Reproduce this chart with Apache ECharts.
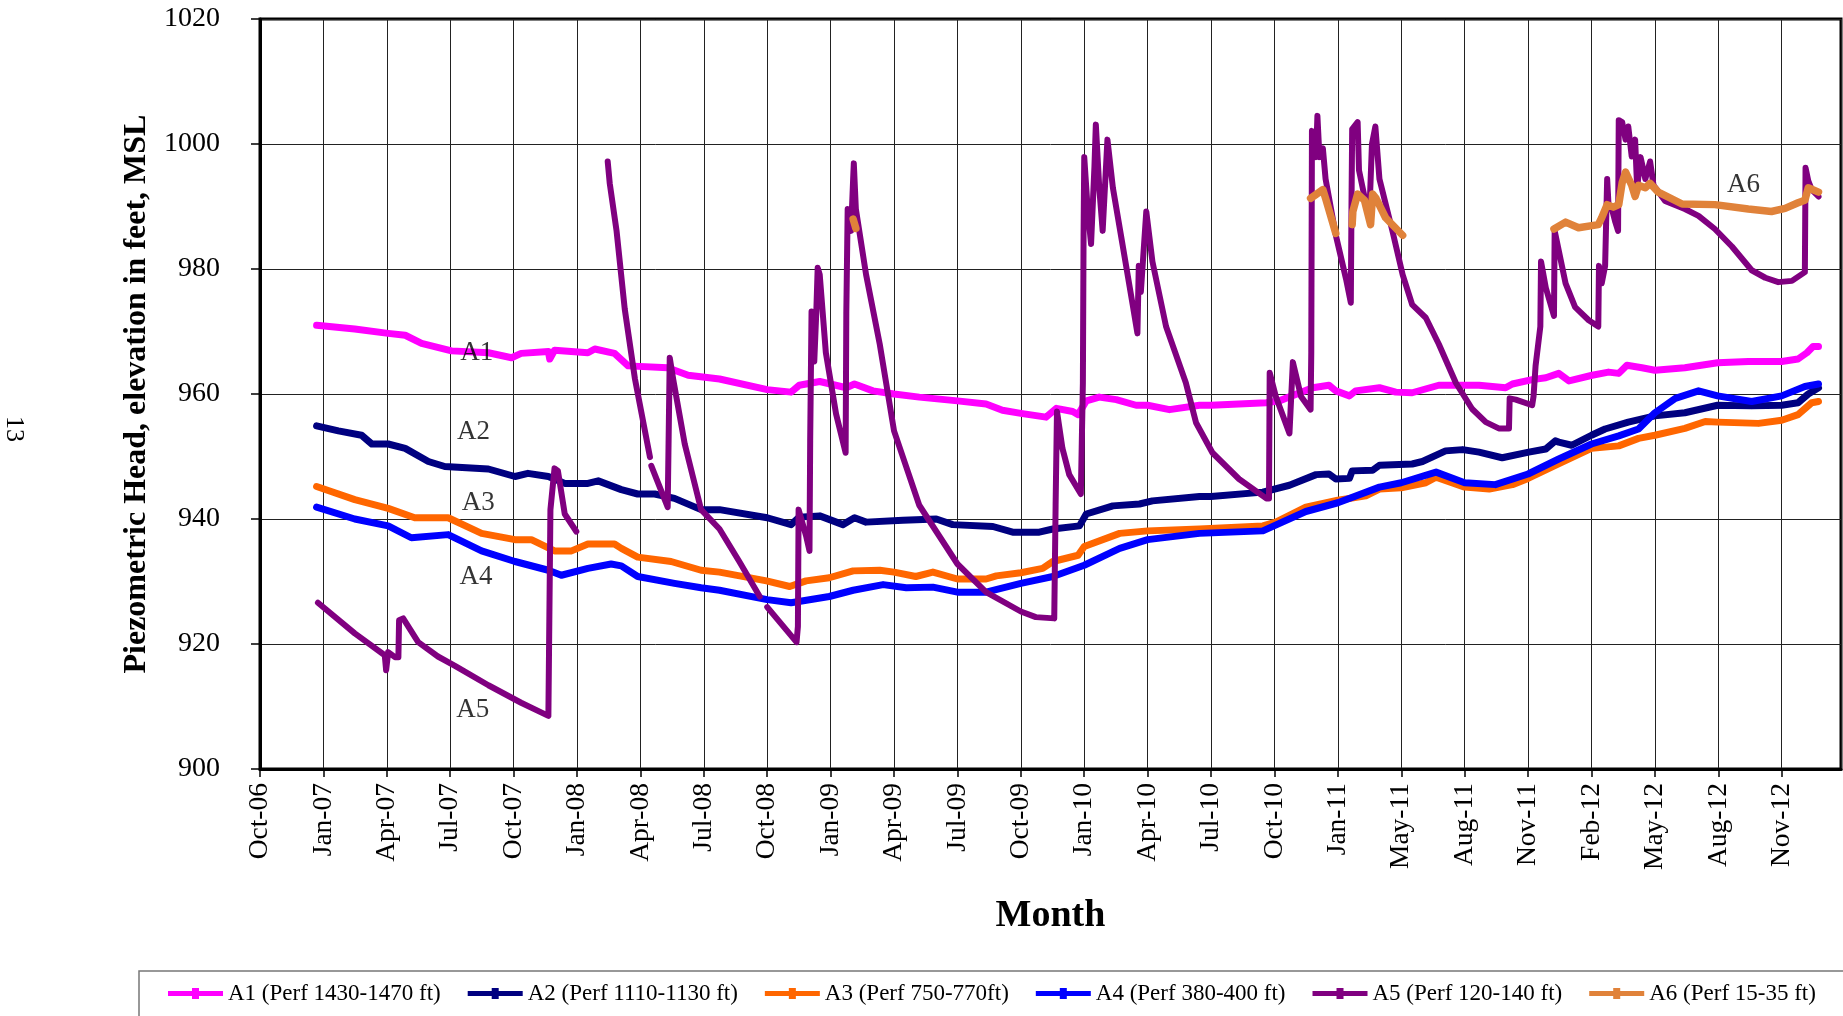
<!DOCTYPE html>
<html>
<head>
<meta charset="utf-8">
<script src="https://cdn.jsdelivr.net/npm/echarts@6/dist/echarts.min.js"></script>
<style>
html,body{margin:0;padding:0;background:#fff;}
#chart{width:1843px;height:1016px;}
</style>
</head>
<body>
<div id="chart"></div>
<script>
// x values are days counted from the axis start (1 Oct 2006); ticks every 93 days
const AXIS_START = Date.UTC(2006, 9, 1);
const TICK_DAYS = 93;
const AXIS_END_DAY = 2319;
const MONTHS = ['Jan','Feb','Mar','Apr','May','Jun','Jul','Aug','Sep','Oct','Nov','Dec'];

const seriesNames = ['A1 (Perf 1430-1470 ft)','A2 (Perf 1110-1130 ft)','A3 (Perf 750-770ft)','A4 (Perf 380-400 ft)','A5 (Perf 120-140 ft)','A6 (Perf 15-35 ft)'];
const seriesColors = ['#FF00FF','#000080','#FF6600','#0000FF','#800080','#E0823A'];

const a1 = [[83,971.0],[139,970.4],[188,969.7],[213,969.4],[237,968.1],[281,966.9],[335,966.6],[369,965.8],[383,966.5],[423,966.8],[425,965.6],[432,967.0],[481,966.6],[491,967.2],[520,966.5],[540,964.5],[598,964.2],[628,963.0],[674,962.4],[744,960.7],[779,960.3],[791,961.4],[821,962.0],[860,961.0],[872,961.6],[899,960.5],[930,960.0],[967,959.5],[1023,958.9],[1065,958.4],[1089,957.4],[1116,956.9],[1153,956.3],[1168,957.7],[1192,957.2],[1200,956.7],[1212,958.9],[1231,959.5],[1256,959.1],[1285,958.2],[1302,958.2],[1334,957.5],[1378,958.2],[1395,958.2],[1476,958.6],[1495,958.9],[1544,961.0],[1568,961.4],[1578,960.5],[1598,959.7],[1607,960.5],[1642,961.0],[1666,960.3],[1690,960.2],[1729,961.4],[1788,961.4],[1827,961.0],[1837,961.6],[1866,962.3],[1886,962.6],[1905,963.3],[1920,962.1],[1954,963.0],[1978,963.5],[1993,963.3],[2005,964.6],[2027,964.2],[2046,963.8],[2090,964.2],[2138,965.0],[2183,965.2],[2232,965.2],[2256,965.6],[2269,966.6],[2278,967.6],[2286,967.6]];

const a2 = [[83,954.9],[115,954.1],[149,953.4],[164,952.0],[188,952.0],[213,951.3],[247,949.2],[271,948.4],[335,948.0],[374,946.8],[393,947.3],[423,946.8],[447,945.7],[481,945.7],[496,946.1],[530,944.7],[554,944.0],[579,944.0],[608,943.3],[647,941.5],[674,941.5],[744,940.2],[779,939.1],[791,940.3],[821,940.5],[855,939.1],[872,940.2],[889,939.5],[943,939.8],[992,940.0],[1016,939.1],[1075,938.8],[1104,937.9],[1143,937.9],[1163,938.4],[1202,938.9],[1212,940.8],[1251,942.1],[1290,942.4],[1309,942.9],[1378,943.6],[1395,943.6],[1471,944.3],[1510,945.4],[1549,947.1],[1568,947.2],[1578,946.4],[1598,946.5],[1602,947.7],[1632,947.8],[1642,948.6],[1690,948.8],[1705,949.2],[1739,950.9],[1764,951.1],[1788,950.7],[1822,949.8],[1861,950.7],[1886,951.2],[1900,952.5],[1905,952.3],[1924,951.8],[1953,953.4],[1973,954.4],[2007,955.5],[2046,956.5],[2090,957.0],[2138,958.2],[2188,958.1],[2232,958.2],[2256,958.6],[2271,960.0],[2286,961.0]];

const a3 = [[83,945.2],[139,943.1],[188,941.7],[227,940.2],[276,940.2],[325,937.7],[374,936.7],[398,936.7],[432,934.9],[457,934.9],[481,936.0],[520,936.0],[530,935.3],[554,933.9],[603,933.2],[647,931.8],[674,931.5],[743,930.1],[777,929.2],[801,930.1],[835,930.6],[870,931.7],[909,931.8],[930,931.5],[962,930.8],[987,931.5],[1023,930.4],[1065,930.4],[1080,930.9],[1116,931.4],[1148,932.1],[1163,933.2],[1200,934.2],[1209,935.6],[1261,937.7],[1302,938.1],[1378,938.4],[1471,938.9],[1490,939.5],[1534,941.9],[1581,943.0],[1622,943.7],[1642,944.8],[1674,945.0],[1710,945.8],[1725,946.7],[1767,945.1],[1803,944.8],[1837,945.5],[1860,946.5],[1900,948.6],[1953,951.3],[1993,951.7],[2022,952.9],[2046,953.4],[2090,954.5],[2120,955.6],[2138,955.5],[2198,955.3],[2232,955.8],[2256,956.7],[2276,958.6],[2286,958.8]];

const a4 = [[83,941.9],[139,940.0],[188,938.9],[222,937.0],[276,937.5],[325,934.9],[374,933.2],[423,931.8],[442,931.0],[481,932.1],[515,932.8],[530,932.5],[554,930.8],[608,929.7],[647,929.0],[674,928.6],[744,927.1],[779,926.6],[835,927.6],[870,928.6],[914,929.5],[948,929.0],[987,929.1],[1023,928.3],[1065,928.3],[1116,929.7],[1163,930.8],[1209,932.6],[1261,935.3],[1302,936.7],[1378,937.7],[1471,938.1],[1534,941.2],[1581,942.6],[1642,945.1],[1674,945.8],[1725,947.5],[1767,945.8],[1812,945.5],[1860,947.2],[1905,949.6],[1953,952.0],[1993,953.3],[2022,954.4],[2046,957.0],[2076,959.3],[2110,960.5],[2138,959.7],[2188,958.8],[2232,959.7],[2266,961.2],[2286,961.6]];

const a5 = [[85,926.6],[139,921.7],[183,918.2],[185,915.8],[188,918.7],[198,917.9],[203,917.9],[204,923.8],[210,924.1],[232,920.3],[261,918.0],[286,916.5],[335,913.4],[383,910.6],[423,908.5],[425,908.2],[426,941.5],[432,948.1],[437,947.7],[447,940.8],[464,938.0],[480,null],
[510,997.2],[513,993.7],[523,986.1],[535,973.6],[550,962.4],[572,949.9],[573,null],[574,948.5],[598,941.9],[601,965.8],[606,962.4],[623,952.0],[647,941.5],[674,938.4],[703,933.2],[733,927.6],[738,null],
[744,925.9],[787,920.3],[789,922.8],[790,941.5],[801,937.3],[806,934.9],[807,952.5],[809,973.2],[813,965.2],[816,973.2],[818,980.2],[821,979.1],[830,966.6],[845,956.8],[859,950.6],[860,972.9],[862,989.6],[867,986.1],[870,994.4],[871,996.9],[874,989.6],[889,979.1],[909,968.0],[930,954.1],[967,942.2],[1023,932.8],[1065,928.3],[1116,925.2],[1138,924.3],[1165,924.1],[1167,942.2],[1169,957.2],[1177,951.3],[1187,947.1],[1204,944.0],[1207,961.8],[1208,985.4],[1209,997.9],[1214,989.6],[1219,984.0],[1224,996.5],[1226,1003.1],[1231,993.0],[1236,986.1],[1243,1000.7],[1251,993.0],[1265,984.0],[1280,974.3],[1287,969.7],[1289,980.5],[1292,976.3],[1300,989.2],[1309,981.2],[1329,970.8],[1358,961.8],[1373,955.4],[1397,950.6],[1436,946.4],[1476,943.3],[1480,943.3],[1481,963.4],[1490,959.6],[1510,953.7],[1515,965.1],[1517,964.8],[1527,959.6],[1541,957.5],[1542,966.6],[1543,1002.1],[1549,997.9],[1551,1004.5],[1554,997.9],[1559,999.3],[1563,994.4],[1578,985.4],[1593,978.4],[1600,974.6],[1601,990.3],[1602,1002.4],[1610,1003.5],[1612,995.8],[1620,991.6],[1627,988.2],[1631,1000.0],[1636,1002.8],[1642,994.4],[1661,986.1],[1676,979.1],[1690,974.3],[1710,972.2],[1729,968.0],[1754,961.8],[1778,957.6],[1798,955.5],[1817,954.5],[1832,954.5],[1833,959.3],[1842,959.1],[1866,958.2],[1868,959.6],[1871,964.5],[1878,970.8],[1879,981.2],[1886,977.0],[1898,972.5],[1899,986.1],[1907,981.9],[1915,977.7],[1929,973.9],[1949,971.8],[1963,970.8],[1964,980.5],[1968,977.7],[1973,980.5],[1976,994.4],[1978,990.3],[1983,989.6],[1988,987.5],[1992,986.1],[1993,1003.8],[1998,1003.5],[2003,1000.7],[2007,1002.8],[2012,998.0],[2017,1000.7],[2020,993.0],[2025,997.9],[2032,994.4],[2039,997.2],[2044,993.4],[2061,990.9],[2090,989.6],[2110,988.5],[2134,986.4],[2159,983.6],[2188,979.8],[2208,978.6],[2227,977.9],[2247,978.1],[2266,979.5],[2267,996.2],[2271,994.1],[2276,992.7],[2286,991.6]];

const a6 = [[870,988.0],[874,986.5],[875,null],
[1541,991.3],[1559,992.7],[1563,991.3],[1578,985.7],[1590,null],
[1602,987.1],[1603,989.2],[1610,992.0],[1620,991.0],[1629,987.1],[1632,992.0],[1637,991.3],[1651,988.2],[1676,985.4],[1680,null],
[1898,986.4],[1915,987.5],[1934,986.6],[1963,987.1],[1968,988.2],[1976,990.3],[1985,989.9],[1993,990.3],[1998,993.8],[2003,995.5],[2012,993.4],[2017,991.6],[2022,993.4],[2032,993.0],[2039,993.7],[2051,992.3],[2086,990.4],[2134,990.3],[2183,989.6],[2217,989.2],[2237,989.7],[2256,990.6],[2266,991.0],[2271,993.0],[2286,992.3]];

const seriesData = [a1, a2, a3, a4, a5, a6];
const seriesWidths = [7, 7, 7, 7, 6, 7.5];

// in-plot well labels (day, head)
const annotationText = ['A1','A2','A3','A4','A5','A6'];
const annotationPos = [[318,966.6],[313,954.0],[320,942.5],[317,930.7],[312,909.4],[2176,993.5]];

const FONT = "'Liberation Serif','Times New Roman',serif";

function dayLabel(v) {
  const k = v / TICK_DAYS;
  if (Math.abs(k - Math.round(k)) > 1e-6) return '';
  const d = new Date(AXIS_START + Math.round(v) * 86400000);
  return MONTHS[d.getUTCMonth()] + '-' + String(d.getUTCFullYear() % 100).padStart(2, '0');
}

const toData = arr => arr.map(p => [p[0], p[1] === null ? '-' : p[1]]);

const legendIcon = 'path://M0,3L24,3L24,0L31,0L31,3L55,3L55,8L31,8L31,11L24,11L24,8L0,8Z';

const series = seriesNames.map((name, i) => ({
  name: name,
  type: 'line',
  data: toData(seriesData[i]),
  showSymbol: false,
  symbol: 'rect',
  connectNulls: false,
  lineStyle: { color: seriesColors[i], width: seriesWidths[i], join: 'round', cap: 'round' },
  itemStyle: { color: seriesColors[i] },
  emphasis: { disabled: true },
  z: 2 + i
}));

series.push({
  name: 'labels',
  type: 'scatter',
  data: annotationPos.map((p, i) => [p[0], p[1], annotationText[i]]),
  symbolSize: 1,
  itemStyle: { color: 'rgba(0,0,0,0)' },
  label: {
    show: true, position: 'inside', formatter: p => p.data[2],
    fontFamily: FONT, fontSize: 27, color: '#000'
  },
  silent: true,
  z: 20
});

const chart = echarts.init(document.getElementById('chart'), null, { renderer: 'canvas' });
chart.setOption({
  animation: false,
  backgroundColor: '#ffffff',
  grid: { left: 260, right: 2, top: 19, bottom: 247, show: true, borderColor: '#000', borderWidth: 3, backgroundColor: 'transparent' },
  xAxis: {
    type: 'value', min: 0, max: AXIS_END_DAY, interval: TICK_DAYS,
    name: 'Month', nameLocation: 'middle', nameGap: 128,
    nameTextStyle: { fontFamily: FONT, fontSize: 38, fontWeight: 'bold', color: '#000' },
    axisLine: { show: true, onZero: false, lineStyle: { color: '#000', width: 3 } },
    axisTick: { show: true, inside: false, length: 8, lineStyle: { color: '#000', width: 1.5 } },
    axisLabel: { rotate: 90, margin: 14, fontFamily: FONT, fontSize: 27.5, color: '#000', formatter: dayLabel, showMaxLabel: false, showMinLabel: true },
    splitLine: { show: true, lineStyle: { color: '#222', width: 1 } }
  },
  yAxis: {
    type: 'value', min: 900, max: 1020, interval: 20,
    name: 'Piezometric Head, elevation in feet, MSL', nameLocation: 'middle', nameGap: 106, nameRotate: 90,
    nameTextStyle: { fontFamily: FONT, fontSize: 32, fontWeight: 'bold', color: '#000' },
    axisLine: { show: true, lineStyle: { color: '#000', width: 3 } },
    axisTick: { show: true, inside: false, length: 9, lineStyle: { color: '#000', width: 1.5 } },
    axisLabel: { margin: 40, fontFamily: FONT, fontSize: 28, color: '#000', formatter: v => String(v) },
    splitLine: { show: true, lineStyle: { color: '#222', width: 1 } }
  },
  legend: {
    data: seriesNames.map((n, i) => ({ name: n, icon: legendIcon, itemStyle: { color: seriesColors[i] } })),
    left: 139, top: 971, width: 1690,
    orient: 'horizontal',
    padding: [11, 34, 14, 29],
    itemGap: 27, itemWidth: 55, itemHeight: 11,
    borderColor: '#777', borderWidth: 1.5,
    selectedMode: false,
    textStyle: { fontFamily: FONT, fontSize: 23, color: '#000' }
  },
  graphic: [{
    type: 'text', x: 14, y: 429, rotation: -Math.PI / 2,
    style: { text: '13', fontFamily: FONT, fontSize: 26, fill: '#000', align: 'center', verticalAlign: 'middle' }
  }],
  series: series
});
</script>
</body>
</html>
